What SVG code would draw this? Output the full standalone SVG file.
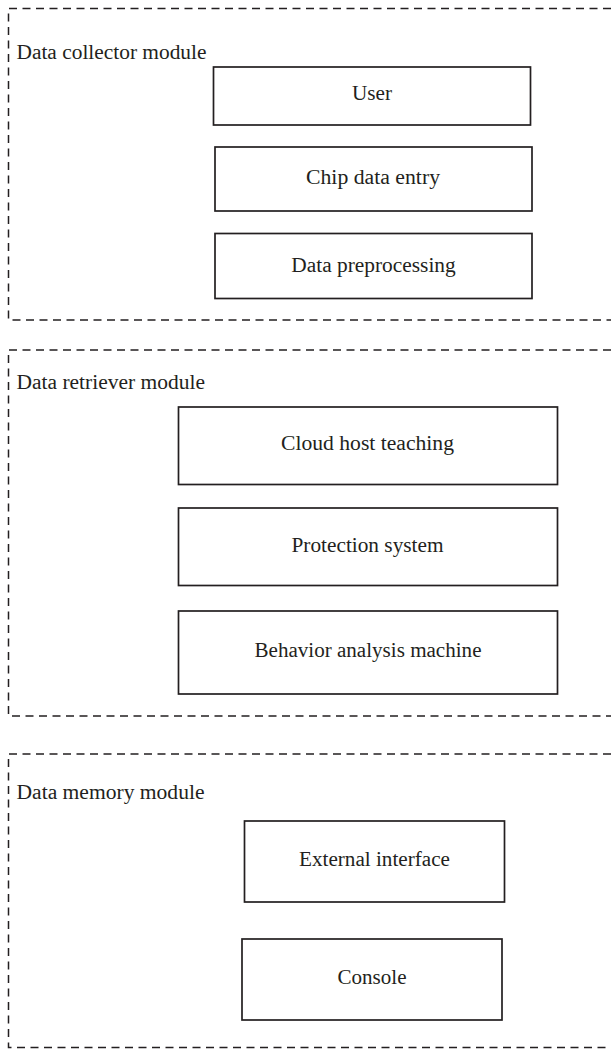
<svg xmlns="http://www.w3.org/2000/svg" width="611" height="1049" viewBox="0 0 611 1049">
  <style>
    .module { fill: none; stroke: #231f20; stroke-width: 1.5; stroke-dasharray: 8 5.5; }
    .box { fill: #ffffff; stroke: #231f20; stroke-width: 1.7; }
    .label { font-family: "Liberation Serif", "Times New Roman", serif; font-size: 20.5px; fill: #231f20; }
    .center { text-anchor: middle; }
  </style>
  <rect width="611" height="1049" fill="#ffffff"/>

  <!-- Module frames (open on the right edge) -->
  <g id="module-collector">
    <path class="module" d="M611,8.5 H8.5 V320 H611"/>
    <text class="label" x="16.5" y="59" textLength="190" lengthAdjust="spacingAndGlyphs">Data collector module</text>
  </g>
  <g id="module-retriever">
    <path class="module" d="M611,350 H8.5 V716 H611"/>
    <text class="label" x="16.5" y="389" textLength="188.5" lengthAdjust="spacingAndGlyphs">Data retriever module</text>
  </g>
  <g id="module-memory">
    <path class="module" d="M611,754 H8.5 V1047.5 H611"/>
    <text class="label" x="16.5" y="799" textLength="188" lengthAdjust="spacingAndGlyphs">Data memory module</text>
  </g>

  <!-- Component boxes -->
  <g id="node-user">
    <rect class="box" x="213.5" y="67" width="317" height="58"/>
    <text class="label center" x="372" y="100" textLength="40" lengthAdjust="spacingAndGlyphs">User</text>
  </g>
  <g id="node-chip-data-entry">
    <rect class="box" x="215" y="147" width="317" height="64"/>
    <text class="label center" x="373" y="184" textLength="134" lengthAdjust="spacingAndGlyphs">Chip data entry</text>
  </g>
  <g id="node-data-preprocessing">
    <rect class="box" x="215" y="233.5" width="317" height="65"/>
    <text class="label center" x="373.5" y="271.5" textLength="164.5" lengthAdjust="spacingAndGlyphs">Data preprocessing</text>
  </g>
  <g id="node-cloud-host-teaching">
    <rect class="box" x="178.5" y="407" width="379" height="77.5"/>
    <text class="label center" x="367.5" y="450" textLength="173" lengthAdjust="spacingAndGlyphs">Cloud host teaching</text>
  </g>
  <g id="node-protection-system">
    <rect class="box" x="178.5" y="508" width="379" height="77.5"/>
    <text class="label center" x="367.5" y="551.5" textLength="152" lengthAdjust="spacingAndGlyphs">Protection system</text>
  </g>
  <g id="node-behavior-analysis-machine">
    <rect class="box" x="178.5" y="611" width="379" height="83"/>
    <text class="label center" x="368" y="656.5" textLength="227" lengthAdjust="spacingAndGlyphs">Behavior analysis machine</text>
  </g>
  <g id="node-external-interface">
    <rect class="box" x="244.5" y="821" width="260" height="81"/>
    <text class="label center" x="374.5" y="865.5" textLength="151" lengthAdjust="spacingAndGlyphs">External interface</text>
  </g>
  <g id="node-console">
    <rect class="box" x="242" y="939" width="260" height="81"/>
    <text class="label center" x="372" y="984" textLength="69" lengthAdjust="spacingAndGlyphs">Console</text>
  </g>

  <!-- No connectors are drawn between the components -->
  <g id="connectors"/>
</svg>
